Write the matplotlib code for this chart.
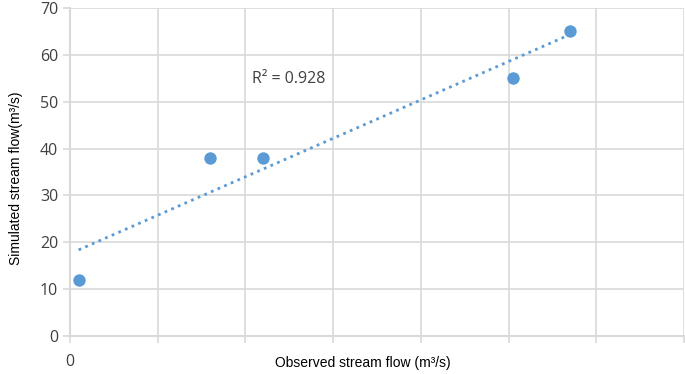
import numpy as np
import matplotlib.pyplot as plt

# 观测值与模拟值
observed = [1, 16, 22, 50.5, 57]
simulated = [12, 38, 38, 55, 65]
x_ticks = [0, 10, 20, 30, 40, 50, 60, 70]
x_tick_labels = ['0', '', '', '', '', '', '', '']
y_ticks = [0, 10, 20, 30, 40, 50, 60, 70]
r2_text = 'R² = 0.928'

grid_c = '#d9d9d9'
blue = '#5b9bd5'

fig = plt.figure(figsize=(6.85, 3.74), dpi=100)
ax = fig.add_axes([0.102, 0.1016, 0.8965, 0.877])

ax.scatter(observed, simulated, s=80, color=blue, zorder=3, linewidths=0)

# 线性趋势线
k, b = np.polyfit(observed, simulated, 1)
xs = np.array([min(observed), max(observed)])
ax.plot(xs, k * xs + b, color=blue, linestyle=(0, (1, 1.6)), linewidth=2, zorder=2)
ax.text(20.8, 54.8, r2_text, fontsize=11.5, color='#404040',
        family='Open Sans', va='center', ha='left')

ax.set_xlim(0, 70)
ax.set_ylim(0, 70)
ax.set_xticks(x_ticks)
ax.set_xticklabels(x_tick_labels)
ax.set_yticks(y_ticks)
ax.grid(True, color=grid_c, linewidth=1.2)
ax.set_axisbelow(True)
for s in ['top', 'right']:
    ax.spines[s].set_visible(False)
for s in ['left', 'bottom']:
    ax.spines[s].set_color(grid_c)
    ax.spines[s].set_linewidth(1.5)
ax.tick_params(axis='both', colors=grid_c, length=5, width=1.2,
               labelcolor='#404040', labelsize=11.5)
ax.tick_params(axis='x', pad=8)
for lab in ax.get_xticklabels() + ax.get_yticklabels():
    lab.set_family('Open Sans')

ax.set_xlabel('Observed stream flow (m³/s)', fontsize=10, family='Liberation Sans')
ax.xaxis.set_label_coords(0.477, -0.06)
ax.set_ylabel('Simulated stream flow(m³/s)', fontsize=10, family='Liberation Sans')
ax.yaxis.set_label_coords(-0.076, 0.48)

plt.savefig('out.png', dpi=100)
